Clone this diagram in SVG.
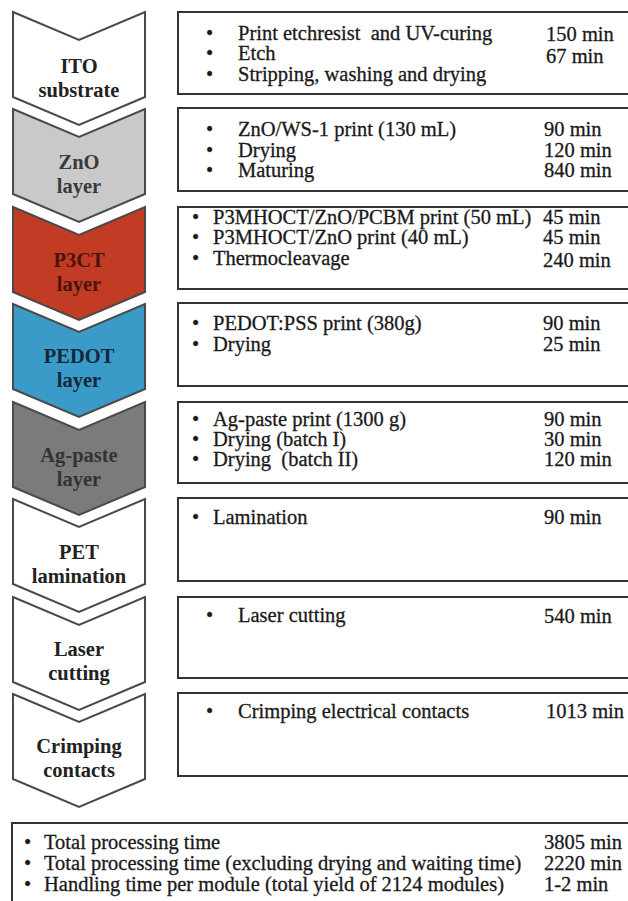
<svg xmlns="http://www.w3.org/2000/svg" width="628" height="901" viewBox="0 0 628 901">
<style>
.chev{stroke:#4a4a4a;stroke-width:2;stroke-linejoin:miter}
.ct{font-family:"Liberation Serif","Times New Roman",serif;font-weight:bold;font-size:20.5px;text-anchor:middle}
.box{fill:#fff;stroke:#333;stroke-width:2}
.t{font-family:"Liberation Serif","Times New Roman",serif;font-size:20.5px;fill:#1a1a1a;stroke:#1a1a1a;stroke-width:0.3}
</style>
<rect width="628" height="901" fill="#fff"/>
<g id="connectors"/>

<g id="ito">
<polygon class="chev" fill="#fff" points="13,12 79,40 145,12 145,97 79,125 13,97"/>
<text class="ct" x="79" y="73" fill="#222">ITO</text>
<text class="ct" x="79" y="97" fill="#222">substrate</text>
</g>
<g id="zno">
<polygon class="chev" fill="#c9c9c9" points="13,109 79,137 145,109 145,194 79,222 13,194"/>
<text class="ct" x="79" y="169" fill="#3a3a3a">ZnO</text>
<text class="ct" x="79" y="193" fill="#3a3a3a">layer</text>
</g>
<g id="p3ct">
<polygon class="chev" fill="#c13b25" points="13,207 79,235 145,207 145,292 79,320 13,292"/>
<text class="ct" x="79" y="267" fill="#4a140a">P3CT</text>
<text class="ct" x="79" y="291" fill="#4a140a">layer</text>
</g>
<g id="pedot">
<polygon class="chev" fill="#3a9bc9" points="13,304 79,332 145,304 145,389 79,417 13,389"/>
<text class="ct" x="79" y="363" fill="#15283a">PEDOT</text>
<text class="ct" x="79" y="387" fill="#15283a">layer</text>
</g>
<g id="agpaste">
<polygon class="chev" fill="#7b7b7b" points="13,402 79,430 145,402 145,487 79,515 13,487"/>
<text class="ct" x="79" y="462" fill="#333">Ag-paste</text>
<text class="ct" x="79" y="486" fill="#333">layer</text>
</g>
<g id="pet">
<polygon class="chev" fill="#fff" points="13,499 79,527 145,499 145,584 79,612 13,584"/>
<text class="ct" x="79" y="559" fill="#222">PET</text>
<text class="ct" x="79" y="583" fill="#222">lamination</text>
</g>
<g id="laser">
<polygon class="chev" fill="#fff" points="13,597 79,625 145,597 145,682 79,710 13,682"/>
<text class="ct" x="79" y="656" fill="#222">Laser</text>
<text class="ct" x="79" y="680" fill="#222">cutting</text>
</g>
<g id="crimping">
<polygon class="chev" fill="#fff" points="13,694 79,722 145,694 145,779 79,807 13,779"/>
<text class="ct" x="79" y="753" fill="#222">Crimping</text>
<text class="ct" x="79" y="777" fill="#222">contacts</text>
</g>

<g id="box-ito">
<rect class="box" x="178" y="12" width="470" height="82"/>
<text class="t" x="206" y="40">•</text><text class="t" x="238" y="40" xml:space="preserve">Print etchresist  and UV-curing</text>
<text class="t" x="206" y="60">•</text><text class="t" x="238" y="60">Etch</text>
<text class="t" x="206" y="81">•</text><text class="t" x="238" y="81">Stripping, washing and drying</text>
<text class="t" x="546" y="41">150 min</text>
<text class="t" x="546" y="63">67 min</text>
</g>
<g id="box-zno">
<rect class="box" x="178" y="108" width="470" height="83"/>
<text class="t" x="206" y="136">•</text><text class="t" x="238" y="136">ZnO/WS-1 print (130 mL)</text>
<text class="t" x="206" y="157">•</text><text class="t" x="238" y="157">Drying</text>
<text class="t" x="206" y="177">•</text><text class="t" x="238" y="177">Maturing</text>
<text class="t" x="544" y="136">90 min</text>
<text class="t" x="544" y="157">120 min</text>
<text class="t" x="544" y="177">840 min</text>
</g>
<g id="box-p3ct">
<rect class="box" x="178" y="207" width="470" height="82"/>
<text class="t" x="192" y="224">•</text><text class="t" x="213" y="224">P3MHOCT/ZnO/PCBM print (50 mL)</text>
<text class="t" x="192" y="244">•</text><text class="t" x="213" y="244">P3MHOCT/ZnO print (40 mL)</text>
<text class="t" x="192" y="265">•</text><text class="t" x="213" y="265">Thermocleavage</text>
<text class="t" x="543" y="224">45 min</text>
<text class="t" x="543" y="244">45 min</text>
<text class="t" x="543" y="267">240 min</text>
</g>
<g id="box-pedot">
<rect class="box" x="178" y="303" width="470" height="83"/>
<text class="t" x="192" y="330">•</text><text class="t" x="213" y="330">PEDOT:PSS print (380g)</text>
<text class="t" x="192" y="351">•</text><text class="t" x="213" y="351">Drying</text>
<text class="t" x="543" y="330">90 min</text>
<text class="t" x="543" y="351">25 min</text>
</g>
<g id="box-agpaste">
<rect class="box" x="178" y="402" width="470" height="81"/>
<text class="t" x="192" y="426">•</text><text class="t" x="213" y="426">Ag-paste print (1300 g)</text>
<text class="t" x="192" y="446">•</text><text class="t" x="213" y="446">Drying (batch I)</text>
<text class="t" x="192" y="466">•</text><text class="t" x="213" y="466" xml:space="preserve">Drying  (batch II)</text>
<text class="t" x="544" y="426">90 min</text>
<text class="t" x="544" y="446">30 min</text>
<text class="t" x="544" y="466">120 min</text>
</g>
<g id="box-pet">
<rect class="box" x="178" y="498" width="470" height="83"/>
<text class="t" x="192" y="524">•</text><text class="t" x="213" y="524">Lamination</text>
<text class="t" x="544" y="524">90 min</text>
</g>
<g id="box-laser">
<rect class="box" x="178" y="597" width="470" height="81"/>
<text class="t" x="206" y="622">•</text><text class="t" x="238" y="622">Laser cutting</text>
<text class="t" x="544" y="623">540 min</text>
</g>
<g id="box-crimping">
<rect class="box" x="178" y="693" width="470" height="83"/>
<text class="t" x="206" y="718">•</text><text class="t" x="238" y="718">Crimping electrical contacts</text>
<text class="t" x="546" y="718">1013 min</text>
</g>
<g id="box-total">
<rect class="box" x="12" y="823" width="640" height="100"/>
<text class="t" x="24" y="849">•</text><text class="t" x="44" y="849">Total processing time</text>
<text class="t" x="24" y="870">•</text><text class="t" x="44" y="870">Total processing time (excluding drying and waiting time)</text>
<text class="t" x="24" y="891">•</text><text class="t" x="44" y="891">Handling time per module (total yield of 2124 modules)</text>
<text class="t" x="544" y="849">3805 min</text>
<text class="t" x="544" y="870">2220 min</text>
<text class="t" x="544" y="891">1-2 min</text>
</g>
</svg>
